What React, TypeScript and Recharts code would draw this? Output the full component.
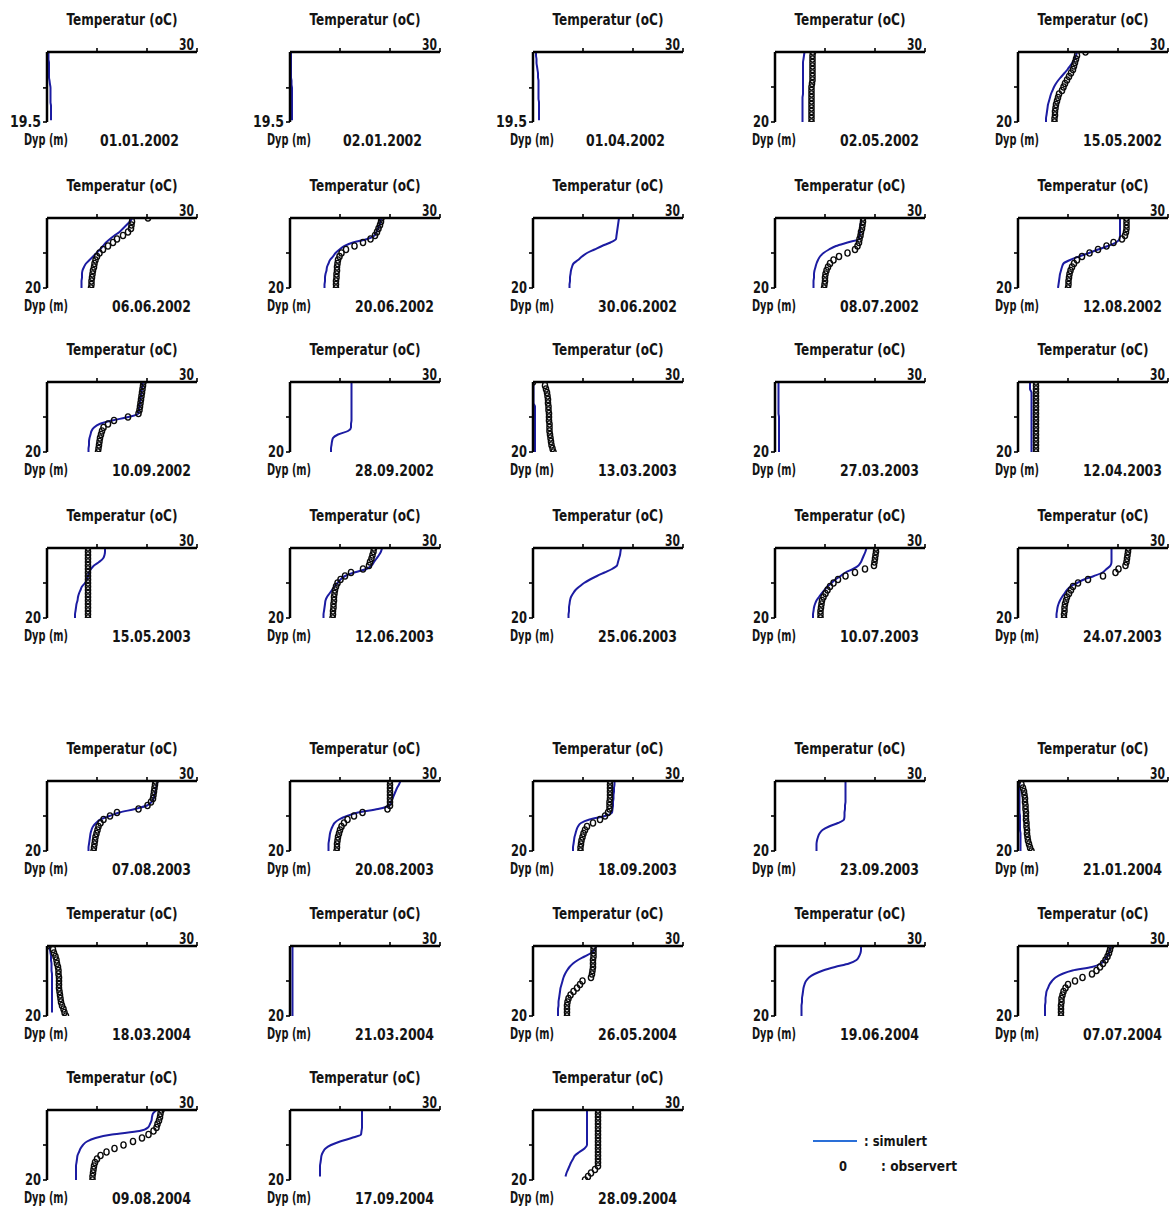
import React from 'react';
import { ComposedChart, Line, XAxis, YAxis } from 'recharts';

const DATES = [
  '01.01.2002', '02.01.2002', '01.04.2002', '02.05.2002', '15.05.2002',
  '06.06.2002', '20.06.2002', '30.06.2002', '08.07.2002', '12.08.2002',
  '10.09.2002', '28.09.2002', '13.03.2003', '27.03.2003', '12.04.2003',
  '15.05.2003', '12.06.2003', '25.06.2003', '10.07.2003', '24.07.2003',
  '07.08.2003', '20.08.2003', '18.09.2003', '23.09.2003', '21.01.2004',
  '18.03.2004', '21.03.2004', '26.05.2004', '19.06.2004', '07.07.2004',
  '09.08.2004', '17.09.2004', '28.09.2004',
];

const DEPTHS = [0, 1, 2, 3, 4, 5, 6, 7, 8, 9, 10, 11, 12, 13, 14, 15, 16, 17, 18, 19, 20];

const DEPTH_MAX = [
  19.5, 19.5, 19.5, 20, 20, 20, 20, 20, 20, 20, 20, 20, 20, 20, 20, 20, 20,
  20, 20, 20, 20, 20, 20, 20, 20, 20, 20, 20, 20, 20, 20, 20, 20,
];

const TEMP_TICKS = [10, 20, 30];
const TEMP_DOMAIN = [0, 30];

type V = number | null;

const SIMULATED: V[][] = [
  [0.3, 0.3, 0.3, 0.4, 0.4, 0.4, 0.4, 0.4, 0.5, 0.6, 0.7, 0.7, 0.7, 0.7, 0.7, 0.8, 0.8, 0.8, 0.8, 0.8, null],
  [0.2, 0.2, 0.2, 0.2, 0.2, 0.2, 0.2, 0.2, 0.3, 0.3, 0.4, 0.4, 0.4, 0.4, 0.4, 0.4, 0.4, 0.4, 0.4, 0.4, null],
  [0.6, 0.6, 0.7, 0.7, 0.8, 0.9, 1.0, 1.0, 1.1, 1.1, 1.1, 1.1, 1.1, 1.1, 1.2, 1.2, 1.2, 1.2, 1.2, 1.2, null],
  [5.9, 5.8, 5.7, 5.6, 5.6, 5.6, 5.6, 5.6, 5.6, 5.6, 5.6, 5.6, 5.6, 5.5, 5.5, 5.5, 5.5, 5.5, 5.5, 5.5, 5.5],
  [11.8, 11.6, 11.3, 10.9, 10.4, 9.9, 9.3, 8.7, 8.1, 7.6, 7.2, 6.9, 6.6, 6.4, 6.2, 6.0, 5.9, 5.8, 5.7, 5.6, 5.6],
  [17.1, 16.6, 15.9, 15.2, 14.5, 13.5, 12.6, 11.8, 11.2, 10.6, 9.9, 9.2, 8.5, 7.8, 7.4, 7.1, 7.0, 7.0, 6.9, 6.9, 6.9],
  [18.3, 18.1, 17.9, 17.6, 17.3, 16.9, 15.5, 12.6, 10.9, 9.9, 9.1, 8.6, 8.0, 7.7, 7.4, 7.3, 7.1, 7.0, 7.0, 6.9, 6.9],
  [17.2, 17.1, 17.0, 16.9, 16.8, 16.7, 16.6, 15.5, 13.8, 12.3, 10.8, 9.8, 9.0, 8.1, 7.8, 7.6, 7.5, 7.4, 7.4, 7.3, 7.3],
  [17.2, 17.2, 17.1, 17.0, 17.0, 16.9, 16.8, 14.5, 12.2, 10.8, 9.7, 9.0, 8.6, 8.3, 8.1, 7.9, 7.8, 7.8, 7.7, 7.7, 7.7],
  [20.4, 20.4, 20.4, 20.4, 20.4, 20.4, 20.3, 19.6, 18.0, 16.0, 14.2, 12.2, 10.4, 9.1, 8.8, 8.6, 8.4, 8.3, 8.2, 8.1, 8.0],
  [19.2, 19.1, 19.0, 18.9, 18.8, 18.7, 18.6, 18.5, 18.4, 18.3, 16.3, 13.0, 10.5, 9.4, 8.9, 8.7, 8.5, 8.4, 8.4, 8.3, 8.3],
  [12.3, 12.3, 12.3, 12.3, 12.3, 12.3, 12.3, 12.3, 12.3, 12.3, 12.3, 12.3, 12.2, 12.2, 11.6, 9.6, 8.6, 8.4, 8.3, 8.2, 8.2],
  [0.1, 0.1, 0.1, 0.1, 0.1, 0.1, 0.1, 0.4, 0.4, 0.4, 0.4, 0.4, 0.4, 0.4, 0.4, 0.4, 0.4, 0.4, 0.4, 0.4, 0.4],
  [0.7, 0.7, 0.7, 0.7, 0.7, 0.7, 0.7, 0.7, 0.7, 0.7, 0.8, 0.8, 0.8, 0.8, 0.8, 0.8, 0.8, 0.8, 0.8, 0.8, 0.8],
  [2.4, 2.4, 2.4, 2.7, 2.7, 2.7, 2.7, 2.7, 2.7, 2.7, 2.7, 2.7, 2.7, 2.7, 2.7, 2.7, 2.7, 2.7, 2.7, 2.7, 2.7],
  [11.6, 11.6, 11.5, 11.2, 10.4, 9.4, 8.8, 8.4, 8.2, 8.0, 7.6, 7.0, 6.7, 6.4, 6.2, 6.1, 5.9, 5.8, 5.7, 5.6, 5.6],
  [18.4, 18.2, 17.8, 17.3, 16.8, 16.3, 15.3, 12.8, 11.0, 10.1, 9.5, 8.9, 8.4, 7.9, 7.4, 7.1, 7.0, 6.9, 6.8, 6.7, 6.7],
  [17.6, 17.5, 17.4, 17.2, 17.0, 16.8, 15.8, 14.3, 12.8, 11.4, 10.2, 9.3, 8.5, 8.0, 7.6, 7.4, 7.3, 7.2, 7.2, 7.1, 7.1],
  [18.3, 18.1, 17.8, 17.5, 17.2, 16.7, 15.6, 14.1, 13.1, 12.1, 11.3, 10.5, 9.9, 9.3, 8.8, 8.3, 8.0, 7.8, 7.7, 7.6, 7.6],
  [18.7, 18.7, 18.7, 18.7, 18.7, 18.5, 17.7, 16.9, 15.2, 13.2, 11.8, 10.5, 9.8, 9.3, 8.8, 8.4, 8.1, 7.9, 7.8, 7.7, 7.7],
  [22.1, 22.0, 21.8, 21.7, 21.5, 21.3, 20.9, 20.0, 17.6, 14.5, 12.5, 10.7, 9.8, 9.2, 8.9, 8.7, 8.6, 8.5, 8.4, 8.3, 8.3],
  [22.1, 21.8, 21.4, 21.1, 20.8, 20.5, 20.2, 19.9, 17.6, 13.6, 11.4, 9.8, 8.9, 8.5, 8.2, 8.0, 7.9, 7.8, 7.7, 7.7, 7.7],
  [16.3, 16.3, 16.2, 16.2, 16.1, 16.1, 16.0, 16.0, 15.9, 15.8, 14.4, 11.3, 9.6, 9.0, 8.7, 8.5, 8.3, 8.2, 8.1, 8.0, 8.0],
  [14.1, 14.1, 14.1, 14.1, 14.1, 14.1, 14.1, 14.0, 14.0, 13.9, 13.9, 13.8, 12.6, 10.8, 9.5, 8.9, 8.6, 8.4, 8.3, 8.3, 8.3],
  [0.3, 0.3, 0.3, 0.3, 0.3, 0.3, 0.3, 0.3, 0.3, 0.3, 0.4, 0.4, 0.4, 0.4, 0.4, 0.5, 0.5, 0.5, 0.5, 0.5, 0.5],
  [0.5, 0.6, 0.7, 0.8, 0.8, 0.9, 0.9, 0.9, 1.0, 1.0, 1.0, 1.0, 1.0, 1.0, 1.0, 1.0, 1.0, 1.0, 1.0, 1.0, null],
  [0.5, 0.5, 0.5, 0.5, 0.5, 0.5, 0.5, 0.5, 0.5, 0.5, 0.5, 0.5, 0.5, 0.5, 0.5, 0.5, 0.5, 0.5, 0.5, 0.5, 0.5],
  [12.7, 12.3, 11.6, 10.3, 9.0, 8.0, 7.3, 6.8, 6.4, 6.1, 5.9, 5.7, 5.5, 5.4, 5.3, 5.2, 5.1, 5.1, 5.0, 5.0, 5.0],
  [17.2, 17.2, 17.1, 16.8, 16.3, 14.8, 12.0, 9.6, 7.9, 6.8, 6.2, 5.9, 5.7, 5.6, 5.5, 5.4, 5.4, 5.3, 5.3, 5.3, 5.3],
  [18.5, 18.4, 18.2, 17.8, 17.3, 16.6, 14.8, 10.9, 8.8, 7.5, 6.8, 6.3, 6.0, 5.7, 5.6, 5.5, 5.5, 5.4, 5.4, 5.4, 5.4],
  [21.9, 21.2, 21.0, 20.9, 20.6, 20.2, 18.5, 13.0, 9.7, 8.0, 7.2, 6.7, 6.4, 6.1, 6.0, 5.9, 5.8, 5.8, 5.8, 5.8, 5.8],
  [14.4, 14.4, 14.4, 14.4, 14.4, 14.4, 14.3, 14.2, 12.3, 10.0, 8.2, 7.1, 6.6, 6.3, 6.2, 6.1, 6.0, 6.0, 6.0, 6.0, null],
  [10.8, 10.8, 10.8, 10.8, 10.8, 10.8, 10.8, 10.8, 10.8, 10.8, 10.8, 10.3, 9.3, 8.4, 8.0, 7.6, 7.3, 7.0, 6.7, 6.5, null],
];

const OBSERVED: (V[] | null)[] = [
  null,
  null,
  null,
  [7.6, 7.5, 7.5, 7.5, 7.5, 7.5, 7.5, 7.5, 7.5, 7.4, 7.3, 7.3, 7.3, 7.3, 7.3, 7.3, 7.3, 7.3, 7.3, 7.3, 7.3],
  [13.5, 11.8, 11.6, 11.4, 11.2, 11.0, 10.6, 10.2, 9.8, 9.4, 9.1, 8.8, 8.2, 8.0, 7.8, 7.6, 7.5, 7.4, 7.4, 7.3, 7.3],
  [20.2, 17.0, 16.9, 16.8, 16.2, 15.2, 14.0, 13.2, 12.2, 11.2, 10.5, 10.0, 9.7, 9.5, 9.4, 9.2, 9.1, 9.0, 8.9, 8.9, 8.8],
  [18.3, 18.2, 18.0, 17.7, 17.4, 17.0, 16.1, 14.6, 12.9, 11.2, 10.3, 9.9, 9.6, 9.5, 9.4, 9.4, 9.3, 9.3, 9.2, 9.2, 9.2],
  null,
  [17.6, 17.6, 17.5, 17.4, 17.2, 17.1, 16.9, 16.8, 16.5, 16.0, 14.5, 12.8, 11.7, 11.0, 10.6, 10.3, 10.1, 10.0, 10.0, 9.9, 9.8],
  [21.7, 21.7, 21.7, 21.7, 21.6, 21.4, 20.8, 19.1, 17.7, 16.0, 14.3, 12.8, 11.8, 11.2, 10.8, 10.5, 10.3, 10.2, 10.1, 10.1, 10.0],
  [19.3, 19.2, 19.1, 19.0, 18.9, 18.8, 18.7, 18.6, 18.5, 18.3, 16.2, 13.4, 12.2, 11.3, 11.0, 10.8, 10.6, 10.5, 10.4, 10.3, 10.2],
  null,
  [0.0, 2.4, 2.6, 2.8, 2.9, 3.0, 3.0, 3.1, 3.1, 3.2, 3.2, 3.2, 3.3, 3.3, 3.3, 3.4, 3.5, 3.6, 3.7, 3.9, 4.1],
  null,
  [3.6, 3.6, 3.6, 3.6, 3.6, 3.6, 3.6, 3.6, 3.6, 3.6, 3.6, 3.6, 3.6, 3.6, 3.6, 3.6, 3.6, 3.6, 3.6, 3.6, 3.6],
  [8.2, 8.2, 8.2, 8.2, 8.2, 8.2, 8.2, 8.2, 8.2, 8.2, 8.2, 8.2, 8.2, 8.2, 8.2, 8.2, 8.2, 8.2, 8.2, 8.2, 8.2],
  [16.8, 16.7, 16.5, 16.3, 16.0, 15.8, 14.6, 12.2, 11.0, 10.1, 9.5, 9.2, 9.0, 8.9, 8.8, 8.8, 8.7, 8.7, 8.6, 8.6, 8.5],
  null,
  [20.2, 20.2, 20.1, 20.0, 19.9, 19.8, 18.0, 16.0, 14.1, 12.6, 11.7, 11.0, 10.5, 10.1, 9.7, 9.4, 9.3, 9.2, 9.1, 9.1, 9.1],
  [22.1, 22.0, 21.9, 21.8, 21.7, 21.5, 20.1, 19.5, 17.0, 14.0, 12.0, 11.0, 10.6, 10.2, 9.8, 9.6, 9.4, 9.3, 9.3, 9.2, 9.2],
  [21.7, 21.6, 21.5, 21.4, 21.3, 21.2, 20.8, 20.1, 18.3, 14.0, 12.6, 11.3, 10.7, 10.3, 10.1, 9.9, 9.7, 9.6, 9.5, 9.4, 9.3],
  [20.0, 20.0, 20.0, 20.0, 20.0, 20.0, 20.0, 20.0, 19.5, 14.5, 12.8, 11.5, 10.8, 10.3, 10.0, 9.8, 9.6, 9.5, 9.4, 9.4, 9.3],
  [15.4, 15.4, 15.4, 15.4, 15.4, 15.4, 15.3, 15.3, 15.3, 15.0, 14.4, 13.4, 12.0, 10.8, 10.4, 10.1, 9.9, 9.7, 9.6, 9.5, 9.5],
  null,
  [0.0, 0.7, 1.0, 1.2, 1.3, 1.4, 1.4, 1.5, 1.5, 1.6, 1.6, 1.6, 1.7, 1.7, 1.8, 1.8, 1.9, 2.0, 2.2, 2.4, 2.7],
  [0.0, 1.2, 1.4, 1.7, 1.9, 2.0, 2.2, 2.3, 2.3, 2.4, 2.4, 2.4, 2.4, 2.5, 2.6, 2.7, 2.8, 3.0, 3.3, 3.5, 3.8],
  null,
  [12.1, 12.1, 12.1, 12.1, 12.0, 12.0, 12.0, 11.9, 11.8, 11.6, 9.9, 9.4, 8.8, 8.1, 7.5, 7.1, 6.9, 6.8, 6.8, 6.8, 6.8],
  null,
  [18.6, 18.4, 18.2, 17.9, 17.5, 17.0, 16.4, 15.7, 14.8, 12.9, 11.4, 10.0, 9.5, 9.1, 8.9, 8.7, 8.7, 8.6, 8.6, 8.6, 8.6],
  [22.9, 22.7, 22.6, 22.4, 22.1, 21.9, 21.3, 20.3, 19.0, 17.2, 15.3, 13.5, 11.9, 10.7, 10.0, 9.6, 9.4, 9.3, 9.2, 9.1, 9.1],
  null,
  [13.0, 13.0, 13.0, 13.0, 13.0, 13.0, 13.0, 13.0, 13.0, 13.0, 13.0, 13.0, 13.0, 13.0, 13.0, 13.0, 13.0, 12.4, 11.6, 11.0, 10.4],
];

const TITLE = 'Temperatur (oC)';
const DEPTH_LABEL = 'Dyp (m)';
const LEGEND_SIM = ': simulert';
const LEGEND_OBS = ': observert';
const LEGEND_OBS_MARK = '0';

// layout (page coordinates of each panel's plot-area top-left corner)
const ROW_TOP = [52, 217.5, 382, 547.5, 781, 946, 1110];
const COL_LEFT = [47, 290, 533, 775, 1018];
const PW = 200;
const PH = 155;
const PLOT_W = 150;
const PLOT_H = 70;
const OX = 47;
const OY = 52;

const FONT = "'DejaVu Sans Condensed', 'Liberation Sans Narrow', 'DejaVu Sans', Arial, sans-serif";
const TXT = '#141414';
const SIM_COLOR = '#1c1ca2';

const txt = (x: number, y: number, s: string, len: number, anchor: string = 'start', size = 15.5, key?: string) => (
  <text
    key={key}
    x={x}
    y={y}
    textAnchor={anchor as any}
    fontFamily={FONT}
    fontWeight="bold"
    fontSize={size}
    fill={TXT}
    textLength={len}
    lengthAdjust="spacingAndGlyphs"
  >
    {s}
  </text>
);

const XTick = (props: any) => {
  const { x, y, payload } = props;
  if (payload.value !== 30) return <g />;
  return txt(x - 3, y + 4, String(payload.value), 15, 'end');
};

const makeYTick = (max: number) => (props: any) => {
  const { x, y, payload } = props;
  if (payload.value !== max) return <g />;
  const s = String(payload.value);
  return txt(x, y + 5, s, s.length > 2 ? 31 : 16, 'end');
};

const ObsDot = (props: any) => {
  const { cx, cy, index } = props;
  if (typeof cx !== 'number' || typeof cy !== 'number' || isNaN(cx) || isNaN(cy)) return <g key={`o-${index}`} />;
  return (
    <ellipse key={`o-${index}`} cx={cx} cy={cy} rx={2.6} ry={3.1} fill="none" stroke="#0a0a0a" strokeWidth={1.4} />
  );
};

function Panel({ index }: { index: number }) {
  const row = index < 20 ? Math.floor(index / 5) : 4 + Math.floor((index - 20) / 5);
  const col = index % 5;
  const obs = OBSERVED[index];
  const data = DEPTHS.map((d, k) => ({ d, sim: SIMULATED[index][k], obs: obs ? obs[k] : null }));
  const yMax = DEPTH_MAX[index];
  const short = yMax !== 20;
  const dateX = short ? 100 : 112;
  return (
    <div style={{ position: 'absolute', left: COL_LEFT[col] - OX, top: ROW_TOP[row] - OY }}>
      <ComposedChart
        width={PW}
        height={PH}
        data={data}
        layout="vertical"
        margin={{ top: OY - 30, left: OX - 30, right: PW - OX - PLOT_W, bottom: PH - OY - PLOT_H }}
      >
        <XAxis
          type="number"
          orientation="top"
          domain={TEMP_DOMAIN}
          ticks={TEMP_TICKS}
          interval={0}
          height={30}
          allowDataOverflow
          tickSize={4}
          axisLine={{ stroke: '#000', strokeWidth: 2.5 }}
          tickLine={{ stroke: '#000', strokeWidth: 1.6 }}
          tick={<XTick />}
          label={() => txt(OX + PLOT_W / 2, 25, TITLE, 111, 'middle')}
        />
        <YAxis
          type="number"
          dataKey="d"
          domain={[0, yMax]}
          ticks={[10, yMax]}
          interval={0}
          width={30}
          allowDataOverflow
          tickSize={4}
          axisLine={{ stroke: '#000', strokeWidth: 2.5 }}
          tickLine={{ stroke: '#000', strokeWidth: 1.6 }}
          tick={makeYTick(yMax)}
          label={() => (
            <g>
              {txt(24, 145, DEPTH_LABEL, 44, 'start', 15.5, 'dyp')}
              {txt(dateX, 146, DATES[index], 79, 'start', 15.5, 'date')}
            </g>
          )}
        />
        <Line
          dataKey="sim"
          type="monotone"
          stroke={SIM_COLOR}
          strokeWidth={2}
          dot={false}
          activeDot={false}
          isAnimationActive={false}
        />
        <Line
          dataKey="obs"
          type="linear"
          stroke="none"
          dot={ObsDot}
          activeDot={false}
          isAnimationActive={false}
        />
      </ComposedChart>
    </div>
  );
}

function LegendBox() {
  return (
    <svg
      width={200}
      height={60}
      style={{ position: 'absolute', left: 800, top: 1125 }}
    >
      <line x1={13} y1={16} x2={57} y2={16} stroke="#2a6fd8" strokeWidth={2} />
      {txt(64, 21, LEGEND_SIM, 63, 'start', 14)}
      {txt(39, 46, LEGEND_OBS_MARK, 8, 'start', 14)}
      {txt(81, 46, LEGEND_OBS, 76, 'start', 14)}
    </svg>
  );
}

export default function App() {
  return (
    <div
      style={{
        position: 'absolute',
        left: 0,
        top: 0,
        width: 1170,
        height: 1207,
        overflow: 'hidden',
        background: '#fff',
      }}
    >
      {DATES.map((_, i) => (
        <Panel key={i} index={i} />
      ))}
      <LegendBox />
    </div>
  );
}
